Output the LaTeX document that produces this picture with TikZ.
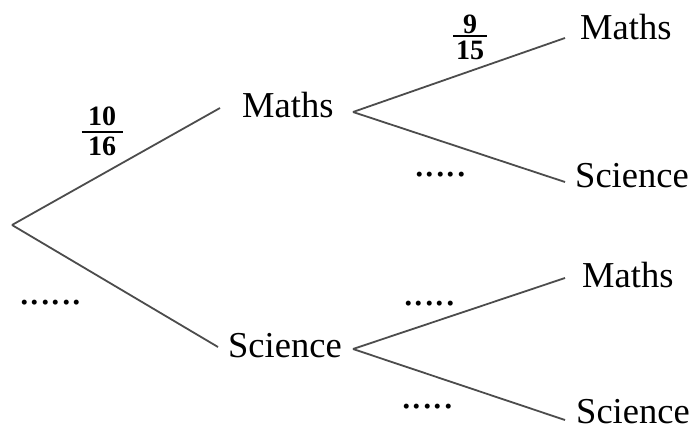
\documentclass[tikz,border=0pt]{standalone}
\usepackage{fontspec}
\setmainfont{Liberation Serif}
\newcommand\myfrac[5]{\vbox{\baselineskip=0pt\lineskip=0pt\lineskiplimit=0pt
  \halign{\hfil##\hfil\cr #1\cr\noalign{\kern#4}\rule{#3}{1.8pt}\cr\noalign{\kern#5}#2\cr}}}
\begin{document}
\begin{tikzpicture}[x=1pt,y=-1pt,
  lbl/.style={inner sep=0pt,anchor=base west,font=\fontsize{36.5}{40}\selectfont},
  br/.style={draw=black!70,line width=1.8pt},
  dots/.style={inner sep=0pt,anchor=base west,font=\fontsize{42}{44}\selectfont},
  frc/.style={inner sep=0pt,font=\fontsize{28}{28}\selectfont\bfseries}]
\useasboundingbox (0,0) rectangle (696,436);
% text nodes
\node[lbl] (m1) at (242,117) {Maths};
\node[lbl] (s1) at (228,357) {Science};
\node[lbl] (mm) at (580,40) {Maths};
\node[lbl] (ms) at (575,187) {Science};
\node[lbl] (sm) at (582,287) {Maths};
\node[lbl] (ss) at (576,423) {Science};
% branch points
\coordinate (r) at (12,225);
\coordinate (m1in) at (220,108);
\coordinate (s1in) at (218,347);
\coordinate (m1out) at (353,112);
\coordinate (s1out) at (353,349);
\coordinate (mmin) at (565,38);
\coordinate (msin) at (565,182);
\coordinate (smin) at (565,278);
\coordinate (ssin) at (565,420);
% branches
\draw[br] (r) -- (m1in);
\draw[br] (r) -- (s1in);
\draw[br] (m1out) -- (mmin);
\draw[br] (m1out) -- (msin);
\draw[br] (s1out) -- (smin);
\draw[br] (s1out) -- (ssin);
% probabilities
\node[frc] (f1) at (102,131.5) {\myfrac{10}{16}{41pt}{5pt}{4pt}};
\node[frc] (f2) at (470,37.5) {\myfrac{9}{15}{34pt}{1pt}{4pt}};
\node[dots] (d1) at (19,304) {......};
\node[dots] (d2) at (414,176) {.....};
\node[dots] (d3) at (403,305) {.....};
\node[dots] (d4) at (401,408) {.....};
\end{tikzpicture}
\end{document}
